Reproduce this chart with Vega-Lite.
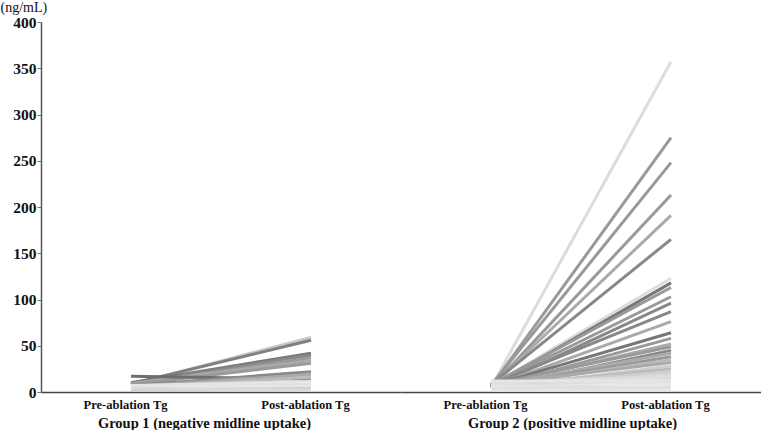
{
  "$schema": "https://vega.github.io/schema/vega-lite/v6.json",
  "padding": {"left": 0, "top": 0, "right": 0, "bottom": 0},
  "background": "white",
  "config": {"view": {"stroke": null}, "font": "Liberation Serif", "concat": {"spacing": 0},
    "axisX": {"title": null, "labelAngle": 0, "ticks": false, "labelFont": "Liberation Serif", "labelFontSize": 12.5, "labelFontWeight": "bold", "labelColor": "#111", "labelPadding": 6, "labelOffset": -6, "domainColor": "#444", "domainWidth": 1.5, "grid": false,
      "titleFont": "Liberation Serif", "titleFontSize": 14.5, "titleFontWeight": "bold", "titleColor": "#111", "titlePadding": 6}
  },
  "data": {"values": [
    {"group": "Group 1 (negative midline uptake)", "id": "a01", "Pre-ablation Tg": 8, "Post-ablation Tg": 59},
    {"group": "Group 1 (negative midline uptake)", "id": "a02", "Pre-ablation Tg": 9, "Post-ablation Tg": 56},
    {"group": "Group 1 (negative midline uptake)", "id": "a03", "Pre-ablation Tg": 10, "Post-ablation Tg": 42},
    {"group": "Group 1 (negative midline uptake)", "id": "a04", "Pre-ablation Tg": 9, "Post-ablation Tg": 40},
    {"group": "Group 1 (negative midline uptake)", "id": "a05", "Pre-ablation Tg": 8, "Post-ablation Tg": 37},
    {"group": "Group 1 (negative midline uptake)", "id": "a06", "Pre-ablation Tg": 9, "Post-ablation Tg": 34},
    {"group": "Group 1 (negative midline uptake)", "id": "a07", "Pre-ablation Tg": 8, "Post-ablation Tg": 31},
    {"group": "Group 1 (negative midline uptake)", "id": "a08", "Pre-ablation Tg": 17, "Post-ablation Tg": 14},
    {"group": "Group 1 (negative midline uptake)", "id": "a09", "Pre-ablation Tg": 7, "Post-ablation Tg": 22},
    {"group": "Group 1 (negative midline uptake)", "id": "a10", "Pre-ablation Tg": 6, "Post-ablation Tg": 19},
    {"group": "Group 1 (negative midline uptake)", "id": "a11", "Pre-ablation Tg": 5, "Post-ablation Tg": 16},
    {"group": "Group 1 (negative midline uptake)", "id": "a12", "Pre-ablation Tg": 6, "Post-ablation Tg": 12},
    {"group": "Group 1 (negative midline uptake)", "id": "a13", "Pre-ablation Tg": 4, "Post-ablation Tg": 10},
    {"group": "Group 1 (negative midline uptake)", "id": "a14", "Pre-ablation Tg": 3, "Post-ablation Tg": 8},
    {"group": "Group 1 (negative midline uptake)", "id": "a15", "Pre-ablation Tg": 5, "Post-ablation Tg": 6},
    {"group": "Group 1 (negative midline uptake)", "id": "a16", "Pre-ablation Tg": 2, "Post-ablation Tg": 4},
    {"group": "Group 1 (negative midline uptake)", "id": "a17", "Pre-ablation Tg": 7, "Post-ablation Tg": 11},
    {"group": "Group 1 (negative midline uptake)", "id": "a18", "Pre-ablation Tg": 4, "Post-ablation Tg": 2},
    {"group": "Group 2 (positive midline uptake)", "id": "b01", "Pre-ablation Tg": 5, "Post-ablation Tg": 357},
    {"group": "Group 2 (positive midline uptake)", "id": "b02", "Pre-ablation Tg": 6, "Post-ablation Tg": 275},
    {"group": "Group 2 (positive midline uptake)", "id": "b03", "Pre-ablation Tg": 7, "Post-ablation Tg": 248},
    {"group": "Group 2 (positive midline uptake)", "id": "b04", "Pre-ablation Tg": 5, "Post-ablation Tg": 213},
    {"group": "Group 2 (positive midline uptake)", "id": "b05", "Pre-ablation Tg": 6, "Post-ablation Tg": 191},
    {"group": "Group 2 (positive midline uptake)", "id": "b06", "Pre-ablation Tg": 8, "Post-ablation Tg": 165},
    {"group": "Group 2 (positive midline uptake)", "id": "b07", "Pre-ablation Tg": 7, "Post-ablation Tg": 123},
    {"group": "Group 2 (positive midline uptake)", "id": "b08", "Pre-ablation Tg": 6, "Post-ablation Tg": 118},
    {"group": "Group 2 (positive midline uptake)", "id": "b09", "Pre-ablation Tg": 8, "Post-ablation Tg": 113},
    {"group": "Group 2 (positive midline uptake)", "id": "b10", "Pre-ablation Tg": 7, "Post-ablation Tg": 103},
    {"group": "Group 2 (positive midline uptake)", "id": "b11", "Pre-ablation Tg": 5, "Post-ablation Tg": 96},
    {"group": "Group 2 (positive midline uptake)", "id": "b12", "Pre-ablation Tg": 8, "Post-ablation Tg": 87},
    {"group": "Group 2 (positive midline uptake)", "id": "b13", "Pre-ablation Tg": 6, "Post-ablation Tg": 76},
    {"group": "Group 2 (positive midline uptake)", "id": "b14", "Pre-ablation Tg": 7, "Post-ablation Tg": 64},
    {"group": "Group 2 (positive midline uptake)", "id": "b15", "Pre-ablation Tg": 5, "Post-ablation Tg": 58},
    {"group": "Group 2 (positive midline uptake)", "id": "b16", "Pre-ablation Tg": 6, "Post-ablation Tg": 52},
    {"group": "Group 2 (positive midline uptake)", "id": "b17", "Pre-ablation Tg": 8, "Post-ablation Tg": 49},
    {"group": "Group 2 (positive midline uptake)", "id": "b18", "Pre-ablation Tg": 4, "Post-ablation Tg": 45},
    {"group": "Group 2 (positive midline uptake)", "id": "b19", "Pre-ablation Tg": 7, "Post-ablation Tg": 42},
    {"group": "Group 2 (positive midline uptake)", "id": "b20", "Pre-ablation Tg": 6, "Post-ablation Tg": 38},
    {"group": "Group 2 (positive midline uptake)", "id": "b21", "Pre-ablation Tg": 5, "Post-ablation Tg": 35},
    {"group": "Group 2 (positive midline uptake)", "id": "b22", "Pre-ablation Tg": 8, "Post-ablation Tg": 32},
    {"group": "Group 2 (positive midline uptake)", "id": "b23", "Pre-ablation Tg": 4, "Post-ablation Tg": 28},
    {"group": "Group 2 (positive midline uptake)", "id": "b24", "Pre-ablation Tg": 6, "Post-ablation Tg": 25},
    {"group": "Group 2 (positive midline uptake)", "id": "b25", "Pre-ablation Tg": 7, "Post-ablation Tg": 22},
    {"group": "Group 2 (positive midline uptake)", "id": "b26", "Pre-ablation Tg": 3, "Post-ablation Tg": 20},
    {"group": "Group 2 (positive midline uptake)", "id": "b27", "Pre-ablation Tg": 10, "Post-ablation Tg": 17},
    {"group": "Group 2 (positive midline uptake)", "id": "b28", "Pre-ablation Tg": 5, "Post-ablation Tg": 14},
    {"group": "Group 2 (positive midline uptake)", "id": "b29", "Pre-ablation Tg": 12, "Post-ablation Tg": 12},
    {"group": "Group 2 (positive midline uptake)", "id": "b30", "Pre-ablation Tg": 4, "Post-ablation Tg": 10},
    {"group": "Group 2 (positive midline uptake)", "id": "b31", "Pre-ablation Tg": 6, "Post-ablation Tg": 8},
    {"group": "Group 2 (positive midline uptake)", "id": "b32", "Pre-ablation Tg": 3, "Post-ablation Tg": 5},
    {"group": "Group 2 (positive midline uptake)", "id": "b33", "Pre-ablation Tg": 9, "Post-ablation Tg": 3},
    {"group": "Group 2 (positive midline uptake)", "id": "b34", "Pre-ablation Tg": 2, "Post-ablation Tg": 2}
  ]},
  "transform": [{"fold": ["Pre-ablation Tg", "Post-ablation Tg"], "as": ["time", "tg"]}],
  "resolve": {"scale": {"color": "shared"}},
  "hconcat": [
    {
      "width": 360, "height": 370,
      "transform": [{"filter": "datum.group === 'Group 1 (negative midline uptake)'"}],
      "mark": {"type": "line", "strokeWidth": 3},
      "encoding": {
        "x": {"field": "time", "type": "nominal", "sort": ["Pre-ablation Tg", "Post-ablation Tg"], "scale": {"type": "point", "padding": 0.5},
          "axis": {"title": "Group 1 (negative midline uptake)", "titleX": 163}},
        "y": {"field": "tg", "type": "quantitative", "scale": {"domain": [0, 400], "nice": false},
          "axis": {"values": [0, 50, 100, 150, 200, 250, 300, 350, 400], "grid": false, "labelFont": "Liberation Serif", "labelFontSize": 15.5, "labelFontWeight": "bold", "labelColor": "#111", "tickSize": 4, "tickColor": "#777", "labelPadding": 1, "domainColor": "#555", "domainWidth": 1.5,
            "title": "(ng/mL)", "titleAngle": 0, "titleX": -41, "titleY": -15, "titleAlign": "left", "titleBaseline": "middle", "titleFont": "Liberation Serif", "titleFontSize": 14, "titleFontWeight": "normal", "titleColor": "#111"}},
        "color": {"field": "id", "type": "nominal", "legend": null,
          "scale": {
            "domain": ["a01","a02","a03","a04","a05","a06","a07","a08","a09","a10","a11","a12","a13","a14","a15","a16","a17","a18",
                       "b01","b02","b03","b04","b05","b06","b07","b08","b09","b10","b11","b12","b13","b14","b15","b16","b17","b18","b19","b20","b21","b22","b23","b24","b25","b26","b27","b28","b29","b30","b31","b32","b33","b34"],
            "range": ["#c8c8c8","#808080","#777777","#888888","#999999","#aaaaaa","#999999","#6e6e6e","#888888","#aaaaaa","#bbbbbb","#cccccc","#dddddd","#e0e0e0","#e8e8e8","#d0d0d0","#e5e5e5","#dadada",
                      "#dcdcdc","#999999","#999999","#999999","#aaaaaa","#888888","#dddddd","#777777","#999999","#999999","#888888","#888888","#aaaaaa","#777777","#999999","#aaaaaa","#999999","#888888","#aaaaaa","#999999","#bbbbbb","#aaaaaa","#cccccc","#bbbbbb","#cccccc","#d5d5d5","#dddddd","#dddddd","#e5e5e5","#e0e0e0","#e8e8e8","#dddddd","#e0e0e0","#e5e5e5"]
          }}
      }
    },
    {
      "width": 360, "height": 370,
      "transform": [{"filter": "datum.group === 'Group 2 (positive midline uptake)'"}],
      "mark": {"type": "line", "strokeWidth": 3},
      "encoding": {
        "x": {"field": "time", "type": "nominal", "sort": ["Pre-ablation Tg", "Post-ablation Tg"], "scale": {"type": "point", "padding": 0.5},
          "axis": {"title": "Group 2 (positive midline uptake)", "titleX": 171}},
        "y": {"field": "tg", "type": "quantitative", "scale": {"domain": [0, 400], "nice": false}, "axis": null},
        "color": {"field": "id", "type": "nominal", "legend": null}
      }
    }
  ]
}
